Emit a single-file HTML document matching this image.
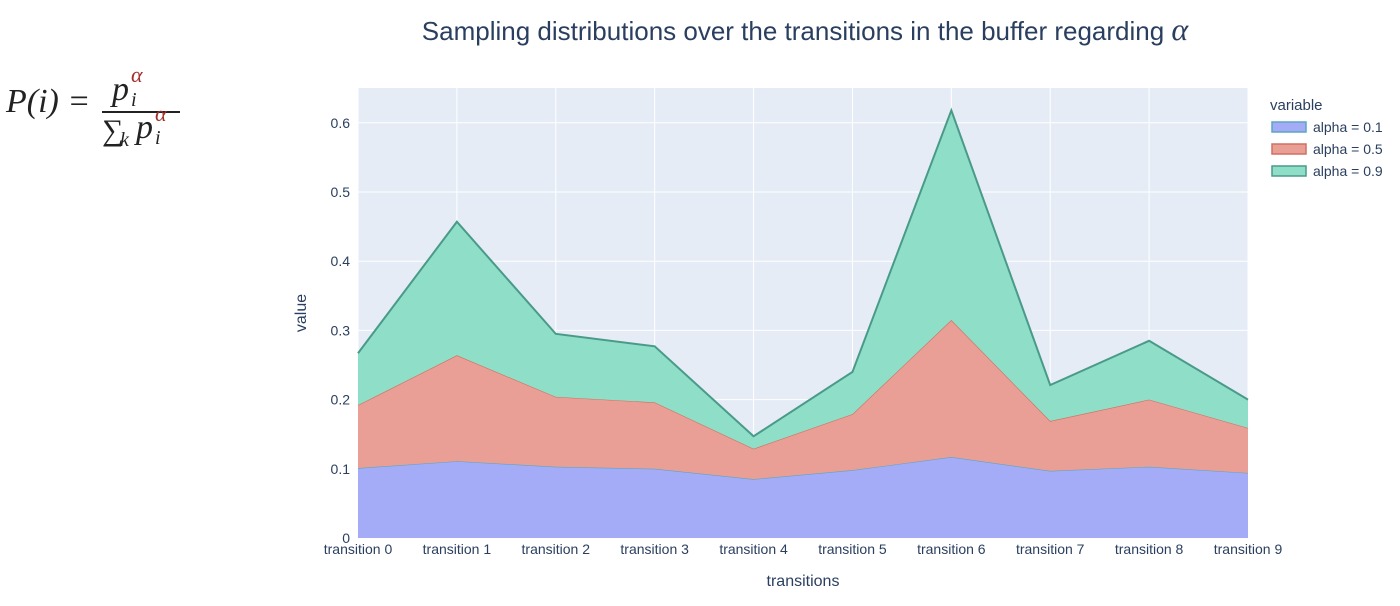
<!DOCTYPE html>
<html><head><meta charset="utf-8"><style>
body{margin:0;background:#fff;width:1400px;height:601px;overflow:hidden;font-family:"Liberation Sans",sans-serif}
</style></head><body>
<svg width="1400" height="601" xmlns="http://www.w3.org/2000/svg">
<g font-family="Liberation Serif, serif" font-style="italic" fill="#222">
<text x="6" y="112" font-size="34">P(i) =</text>
<text x="112" y="100" font-size="34">p</text><text x="131" y="106" font-size="20">i</text><text x="131" y="82" font-size="22" fill="#a0302a">α</text>
<line x1="102" y1="112" x2="180" y2="112" stroke="#222" stroke-width="2"/>
<text x="102" y="140" font-size="30" font-style="normal">∑</text><text x="120" y="146" font-size="20">k</text>
<text x="136" y="138" font-size="34">p</text><text x="155" y="144" font-size="20">i</text><text x="155" y="121" font-size="22" fill="#a0302a">α</text>
</g>
<text x="805" y="40" text-anchor="middle" font-size="26" fill="#2a3f5f">Sampling distributions over the transitions in the buffer regarding <tspan font-family="Liberation Serif, serif" font-style="italic" font-size="32">α</tspan></text>
<rect x="358" y="88" width="890" height="450" fill="#e5ecf6"/>
<g id="grid"></g>
<g id="areas"></g>
<g id="axes" font-size="14" fill="#2a3f5f"></g>
<text transform="translate(306,313) rotate(-90)" text-anchor="middle" font-size="16" fill="#2a3f5f">value</text>
<text x="803" y="586" text-anchor="middle" font-size="16" fill="#2a3f5f">transitions</text>
<g font-size="14" fill="#2a3f5f" id="legend">
<text x="1270" y="110" font-size="15">variable</text>
</g>
</svg>
<script>
const categories=["transition 0","transition 1","transition 2","transition 3","transition 4","transition 5","transition 6","transition 7","transition 8","transition 9"];
const alpha01=[0.101,0.111,0.103,0.100,0.085,0.098,0.117,0.097,0.103,0.094];
const alpha05=[0.091,0.153,0.101,0.096,0.044,0.081,0.198,0.072,0.097,0.065];
const alpha09=[0.075,0.193,0.091,0.081,0.018,0.061,0.303,0.052,0.085,0.041];
const yTicks=[0,0.1,0.2,0.3,0.4,0.5,0.6];
const seriesNames=["alpha = 0.1","alpha = 0.5","alpha = 0.9"];
const NS="http://www.w3.org/2000/svg";
const x0=358,x1=1248,yb=538,ppu=692;
const xs=i=>x0+i*(x1-x0)/(categories.length-1);
const ys=v=>yb-v*ppu;
function mk(t,a,p){const e=document.createElementNS(NS,t);for(const k in a)e.setAttribute(k,a[k]);p.appendChild(e);return e;}
const grid=document.getElementById('grid'),areas=document.getElementById('areas'),axes=document.getElementById('axes'),legend=document.getElementById('legend');
categories.forEach((c,i)=>{const l=mk('line',{x1:xs(i),x2:xs(i),y1:88,y2:538,stroke:'#fff','stroke-width':1},grid);

const t=mk('text',{x:xs(i),y:554,'text-anchor':'middle'},axes);t.textContent=c;
});
yTicks.forEach(v=>{const l=mk('line',{x1:x0,x2:x1,y1:ys(v),y2:ys(v),stroke:'#fff','stroke-width':1},grid);

const t=mk('text',{x:350,y:ys(v)+5,'text-anchor':'end'},axes);t.textContent=v===0?'0':String(v);
});
const series=[alpha01,alpha05,alpha09];
const fills=['#a4acf8','#e99e96','#8fdec7'],lineDark=['#5aa7c0','#d07060','#4a9a8a'];
let base=categories.map(()=>0);
series.forEach((s,k)=>{const top=base.map((b,i)=>b+s[i]);
let d='M'+top.map((v,i)=>xs(i)+','+ys(v)).join('L');
for(let i=categories.length-1;i>=0;i--)d+='L'+xs(i)+','+ys(base[i]);d+='Z';
const p=mk('path',{d:d,fill:fills[k],stroke:'none'},areas);

const ln=mk('path',{d:'M'+top.map((v,i)=>xs(i)+','+ys(v)).join('L'),fill:'none',stroke:lineDark[k],'stroke-width':k===2?2:1.2},areas);

base=top;
const y=128+k*22;
const sw=mk('rect',{x:1272,y:y-6,width:34,height:10,fill:fills[k],stroke:lineDark[k],'stroke-width':1.5},legend);

const t=mk('text',{x:1313,y:y+4},legend);t.textContent=seriesNames[k];
});
</script>
</body></html>
